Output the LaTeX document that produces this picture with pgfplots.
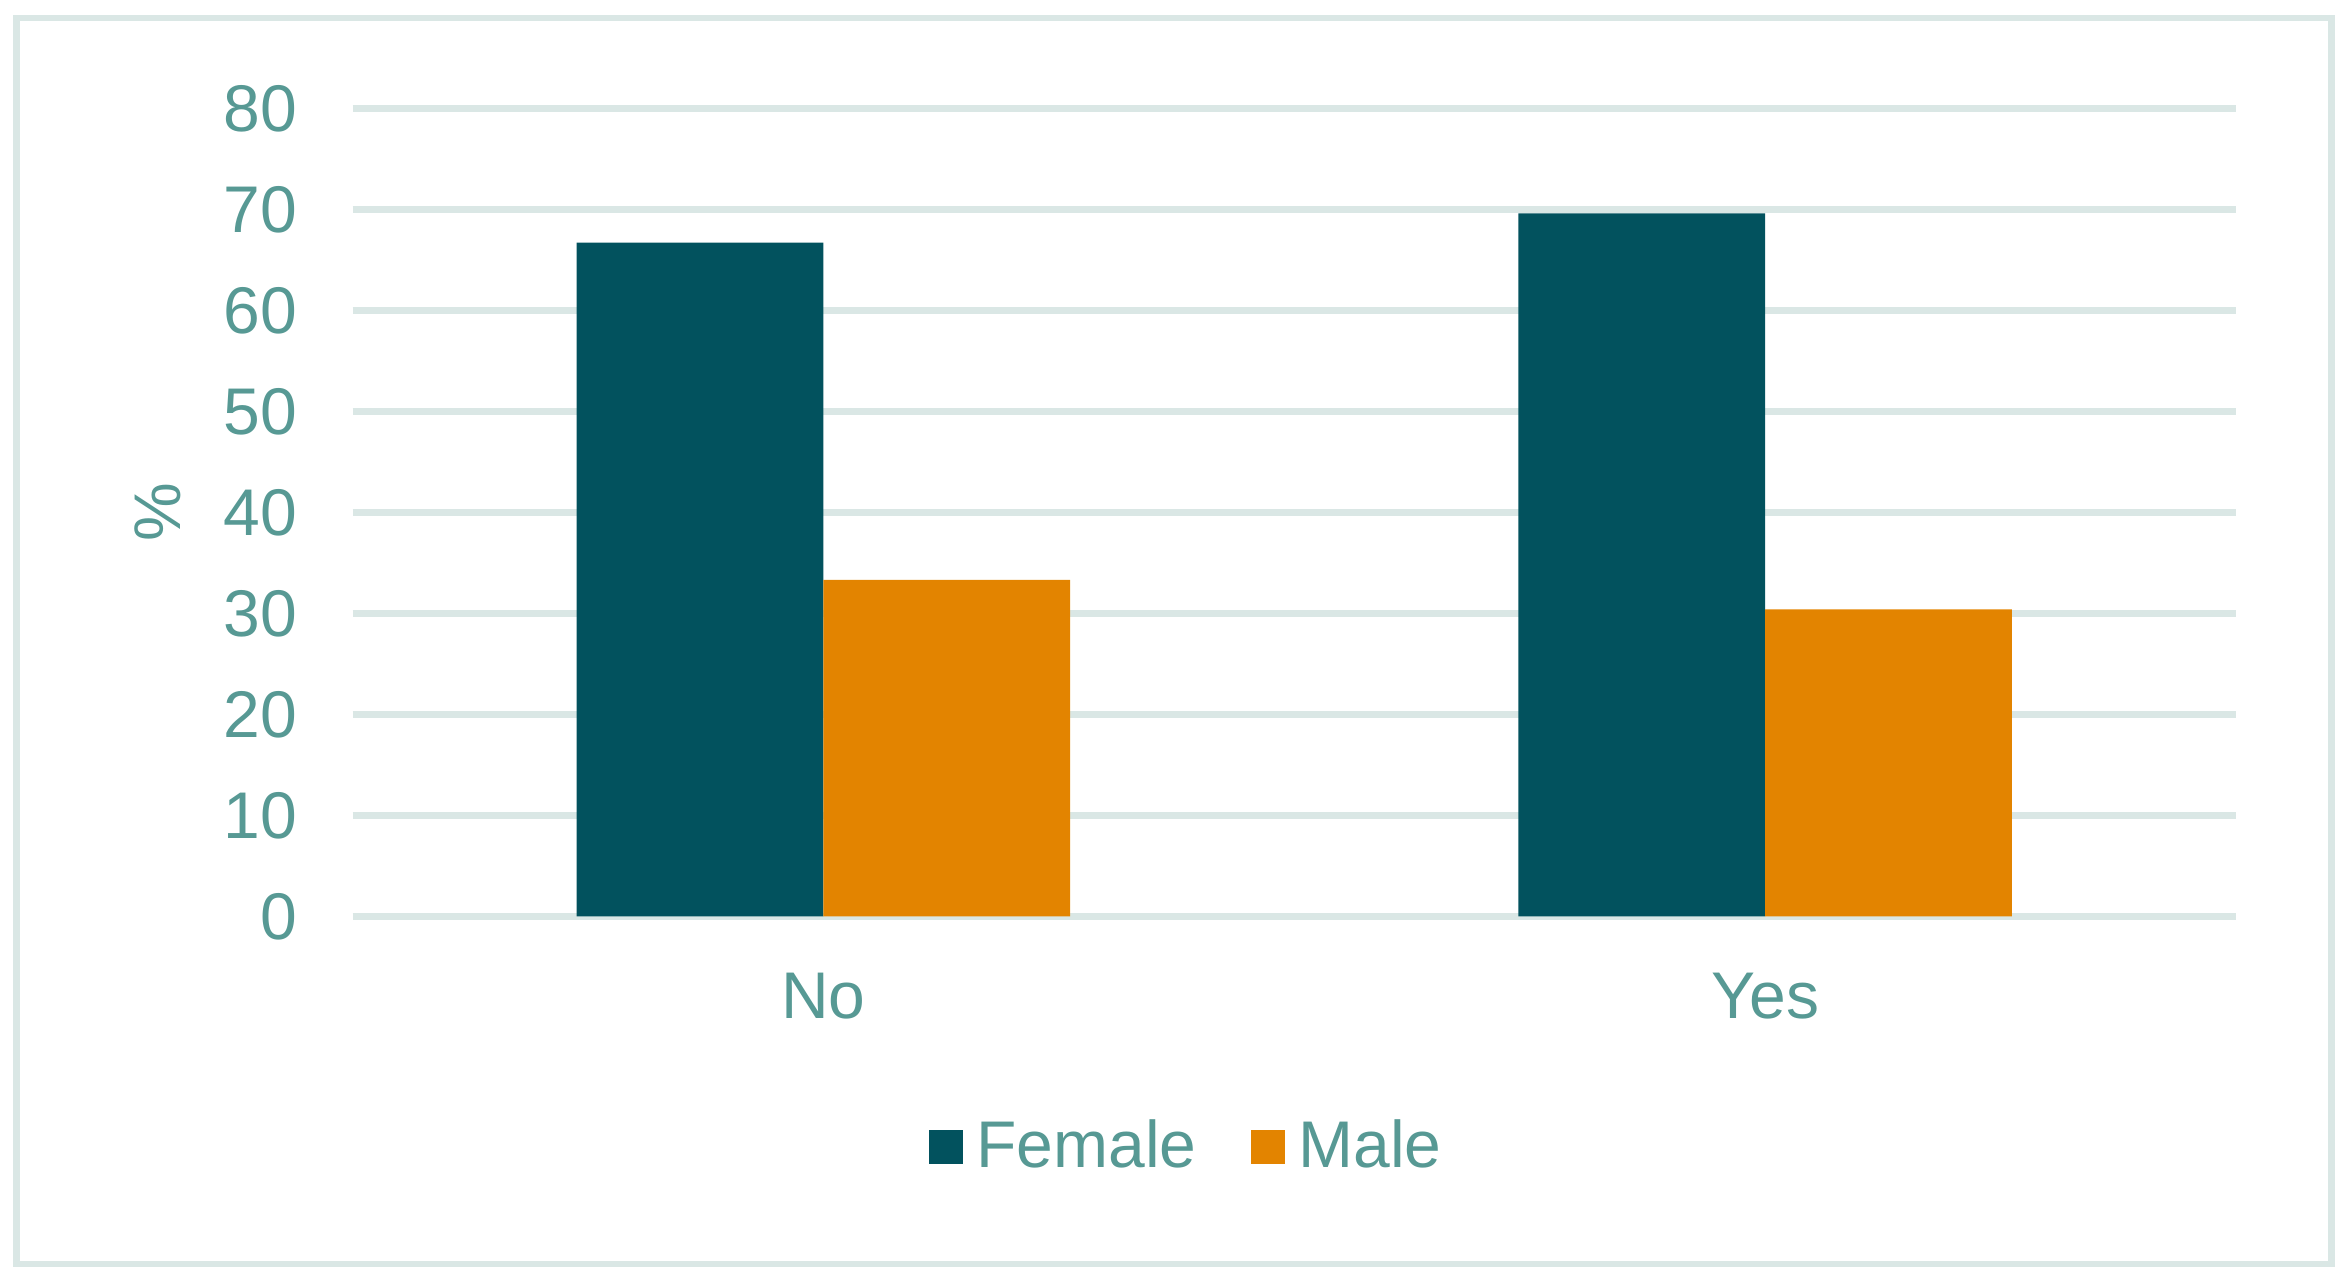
\documentclass[border=0pt]{standalone}
\usepackage{pgfplots}
\usepackage{pgfplotstable}
\pgfplotsset{compat=1.18}
\usepackage{fontspec}
\setmainfont{Liberation Sans}
\definecolor{femc}{HTML}{02525E}
\definecolor{malec}{HTML}{E38400}
\definecolor{txtc}{HTML}{579994}
\definecolor{gridc}{HTML}{DAE7E5}
\pgfplotstableread{
x female male
0 66.7 33.3
1 69.6 30.4
}\datatab
\begin{document}
\begin{tikzpicture}
\path[use as bounding box] (0,0) rectangle (588bp,318.25bp);
\draw[line width=1.6bp, gridc] (4.1bp,2.25bp) rectangle (582.9bp,313.75bp);
\begin{axis}[
  at={(88.125bp,89.175bp)}, anchor=south west,
  scale only axis, width=470.875bp, height=202bp,
  ybar, bar width=0.262,
  xmin=-0.5, xmax=1.5, ymin=0, ymax=80,
  xtick={0,1}, xticklabels={No,Yes},
  ytick={0,10,...,80},
  major tick length=0,
  axis line style={draw=none},
  ymajorgrids, grid style={gridc, line width=1.75bp},
  /pgf/number format/assume math mode=true,
  tick label style={font=\fontsize{16.5bp}{19bp}\selectfont, text=txtc},
  yticklabel style={anchor=east, inner sep=0pt, xshift=-13.6bp},
  xticklabel style={anchor=north, inner sep=0pt, yshift=-14bp},
  ylabel={\%},
  ylabel style={at={(axis description cs:-0.1035,0.5)}, anchor=center, font=\fontsize{16.5bp}{19bp}\selectfont, text=txtc},
  legend columns=-1,
  legend style={at={(axis description cs:0.4442,-0.2855)}, anchor=center, draw=none, fill=none,
    font=\fontsize{16.5bp}{19bp}\selectfont, text=txtc,
    /tikz/every even column/.append style={column sep=11.5bp}},
]
\addplot[fill=femc, draw=none, bar shift=-0.131,
  legend image code/.code={\fill[femc] (0bp,-4.25bp) rectangle (8.5bp,4.25bp); \path (10bp,0bp);}]
  table[x=x, y=female] {\datatab};
\addlegendentry{Female}
\addplot[fill=malec, draw=none, bar shift=0.131,
  legend image code/.code={\fill[malec] (0bp,-4.25bp) rectangle (8.5bp,4.25bp); \path (10bp,0bp);}]
  table[x=x, y=male] {\datatab};
\addlegendentry{Male}
\end{axis}
\end{tikzpicture}
\end{document}
